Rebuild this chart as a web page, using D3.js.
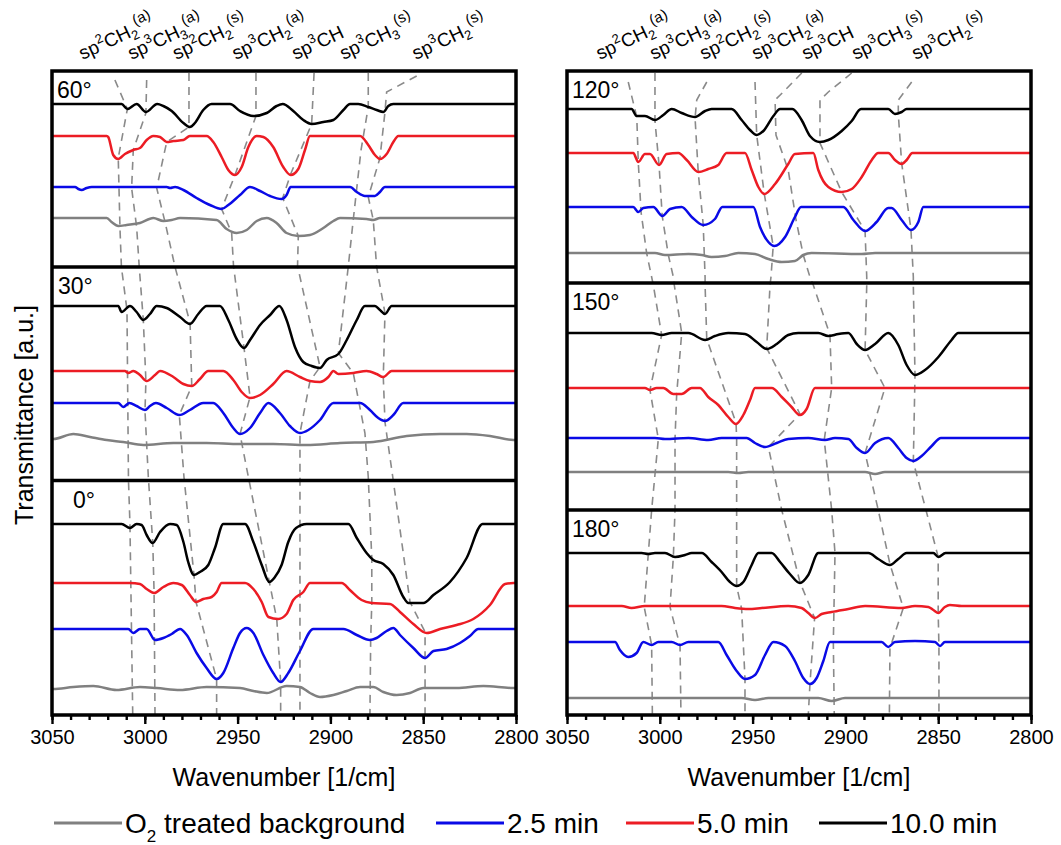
<!DOCTYPE html>
<html>
<head>
<meta charset="utf-8">
<script src="https://cdn.jsdelivr.net/npm/d3@7"></script>
<style>
  body { margin: 0; background: #fff; }
  svg text { font-family: "Liberation Sans", Arial, sans-serif; fill: #000; }
</style>
</head>
<body>
<svg id="chart" width="1061" height="845"></svg>
<script>
// ---------------------------------------------------------------
// Wavenumber axis
// ---------------------------------------------------------------
const wnDomain = [3050, 2800];
const majorTicks = [3050, 3000, 2950, 2900, 2850, 2800];
const minorTicks = d3.range(3050, 2799, -10);

// Series (stacking order bottom -> top inside each panel)
const seriesNames  = ["O\u2082 treated background", "2.5 min", "5.0 min", "10.0 min"];
const seriesColors = ["#808080", "#0a0ae6", "#ec1c24", "#000000"];

// Each spectrum: [wavenumber, change of transmittance relative to its baseline].
// Regions not listed are flat at the baseline.

// ---------- 60 deg ----------
const base60 = [4.97, 5.28, 5.79, 6.11];
const p60_bg = [[3020.5,0],[3017.9,-0.04],[3014.3,-0.08],[3009.8,-0.07],[3002.6,-0.05],[2995.4,0],[2990.0,-0.03],[2985.5,-0.02],[2981.0,0],[2961.3,-0.02],[2955.9,-0.11],[2950.5,-0.15],[2945.1,-0.12],[2939.7,-0.03],[2934.3,0],[2929.0,-0.05],[2923.6,-0.15],[2917.3,-0.18],[2911.0,-0.17],[2903.8,-0.10],[2898.4,-0.03],[2894.8,0],[2880.5,-0.01],[2876.9,-0.02],[2873.3,0]];
const p60_25 = [[3037.6,0],[3035.8,-0.02],[3034.0,-0.03],[3031.3,-0.01],[3028.6,0],[2988.2,0],[2986.4,-0.01],[2983.7,0],[2979.2,-0.03],[2972.1,-0.11],[2964.9,-0.18],[2958.6,-0.22],[2955.0,-0.18],[2948.7,-0.08],[2943.3,0],[2937.9,-0.04],[2932.5,-0.09],[2926.3,-0.12],[2923.6,-0.08],[2921.4,0],[2889.4,0],[2885.8,-0.05],[2881.4,-0.09],[2876.0,-0.09],[2873.3,-0.05],[2870.6,0]];
const p60_50 = [[3020.5,0],[3019.7,-0.01],[3017.0,-0.19],[3014.3,-0.23],[3010.7,-0.18],[3006.2,-0.14],[3002.6,-0.12],[2999.0,-0.04],[2995.4,0],[2991.8,-0.01],[2988.2,-0.06],[2984.6,-0.05],[2979.2,-0.04],[2975.7,0],[2966.7,0],[2963.1,-0.06],[2958.6,-0.21],[2955.0,-0.34],[2951.4,-0.39],[2947.8,-0.31],[2944.2,-0.11],[2939.7,0],[2936.1,-0.01],[2930.8,-0.11],[2925.4,-0.31],[2921.4,-0.39],[2917.3,-0.33],[2913.7,-0.14],[2911.0,0],[2884.0,0],[2879.6,-0.09],[2876.0,-0.19],[2873.3,-0.23],[2869.7,-0.18],[2866.1,-0.06],[2863.4,0]];
const p60_100 = [[3012.5,0],[3009.4,-0.05],[3004.4,0],[2999.4,-0.08],[2993.3,0],[2990.0,-0.02],[2985.5,-0.07],[2979.2,-0.19],[2975.7,-0.23],[2973.0,-0.19],[2968.5,-0.06],[2964.0,0],[2954.1,0],[2948.7,-0.07],[2941.5,-0.12],[2934.3,-0.09],[2929.0,-0.02],[2925.7,0],[2920.0,-0.07],[2914.6,-0.16],[2910.1,-0.20],[2903.8,-0.18],[2898.4,-0.16],[2893.0,-0.06],[2889.4,0],[2885.0,0],[2879.6,-0.03],[2875.1,-0.06],[2871.5,-0.08],[2868.8,-0.02],[2866.1,0]];

// ---------- 30 deg ----------
const base30 = [2.73, 3.12, 3.44, 4.09];
const p30_bg = [[3050,0.03],[3049.3,0.03],[3038.5,0.08],[3029.5,0.05],[3020.5,0.02],[3011.6,0],[3000.8,-0.03],[2984.6,-0.01],[2966.7,-0.01],[2948.7,-0.02],[2930.8,-0.02],[2912.8,-0.03],[2894.8,-0.01],[2876.9,0],[2858.9,0.06],[2840.9,0.08],[2826.6,0.08],[2814.0,0.06],[2801.4,0.02],[2800,0.02]];
const p30_25 = [[3014.3,0],[3011.6,-0.04],[3008.3,0],[3004.4,-0.03],[2999.9,-0.07],[2997.2,-0.03],[2994.0,0],[2988.2,-0.05],[2981.4,-0.12],[2975.7,-0.07],[2968.5,0],[2963.1,0],[2957.7,-0.10],[2952.3,-0.25],[2948.7,-0.31],[2943.3,-0.25],[2937.9,-0.10],[2933.4,0],[2927.2,-0.10],[2921.8,-0.23],[2916.4,-0.30],[2911.9,-0.27],[2905.6,-0.17],[2898.4,0],[2884.0,0],[2878.7,-0.07],[2874.2,-0.15],[2870.6,-0.18],[2866.1,-0.12],[2860.7,0]];
const p30_50 = [[3010.7,0],[3008.9,-0.02],[3006.2,0],[3002.6,-0.04],[2999.0,-0.10],[2994.5,-0.04],[2991.8,0],[2984.6,-0.06],[2979.2,-0.13],[2974.7,-0.15],[2970.3,-0.08],[2965.8,0],[2957.7,0],[2952.3,-0.09],[2947.8,-0.21],[2943.3,-0.27],[2937.9,-0.24],[2930.8,-0.13],[2923.6,0],[2916.4,-0.06],[2911.0,-0.10],[2905.6,-0.11],[2901.1,-0.06],[2898.4,0],[2895.7,-0.03],[2887.6,-0.02],[2880.5,0],[2875.1,-0.03],[2871.5,-0.06],[2867.0,0]];
const p30_100 = [[3014.3,0],[3012.5,-0.06],[3008.0,0],[3004.4,-0.06],[3000.8,-0.14],[2997.2,-0.08],[2993.6,0],[2988.2,-0.02],[2981.0,-0.11],[2975.7,-0.18],[2971.2,-0.08],[2966.7,0],[2959.5,0],[2955.0,-0.14],[2950.5,-0.33],[2946.6,-0.42],[2943.3,-0.34],[2937.9,-0.19],[2932.5,-0.09],[2927.5,0],[2923.6,-0.14],[2919.1,-0.41],[2914.6,-0.56],[2910.1,-0.60],[2905.6,-0.62],[2902.0,-0.54],[2895.7,-0.48],[2891.2,-0.34],[2885.8,-0.14],[2881.4,0],[2876.0,0],[2873.3,-0.04],[2870.6,-0.08],[2867.0,0]];

// ---------- 0 deg ----------
const base0 = [0.27, 0.86, 1.32, 1.91];
const p0_bg = [[3050,-0.01],[3049.3,-0.01],[3038.5,0.01],[3027.7,0.02],[3015.2,-0.02],[3002.6,0.01],[2993.6,0],[2981.0,-0.02],[2966.7,0.01],[2948.7,0],[2941.5,-0.03],[2934.3,-0.05],[2923.6,0.02],[2916.4,0.01],[2911.0,-0.05],[2905.6,-0.09],[2898.4,-0.07],[2891.2,-0.03],[2884.0,0.01],[2876.9,0.01],[2871.5,-0.04],[2864.3,-0.07],[2857.1,-0.05],[2849.9,0],[2832.0,0],[2817.6,0.02],[2801.4,0],[2800,0]];
const p0_25 = [[3008.9,0],[3006.2,-0.04],[3002.6,0],[2999.0,0],[2994.5,-0.11],[2990.0,-0.09],[2985.5,-0.05],[2981.0,0],[2977.4,-0.06],[2972.1,-0.24],[2966.7,-0.39],[2961.3,-0.50],[2957.7,-0.44],[2952.3,-0.19],[2948.7,-0.04],[2945.1,0.01],[2941.5,-0.04],[2936.1,-0.26],[2930.8,-0.44],[2926.8,-0.53],[2922.7,-0.44],[2916.4,-0.22],[2909.2,0],[2893.0,0],[2885.8,-0.06],[2878.7,-0.11],[2875.1,-0.09],[2869.7,-0.02],[2866.1,0.01],[2862.5,-0.06],[2855.3,-0.19],[2849.0,-0.29],[2844.5,-0.22],[2837.4,-0.20],[2830.2,-0.14],[2824.8,-0.07],[2820.3,0]];
const p0_50 = [[3008.0,0],[3002.6,-0.01],[2999.0,-0.06],[2995.0,-0.10],[2990.0,-0.04],[2984.6,0],[2980.1,-0.02],[2975.7,-0.12],[2972.4,-0.19],[2968.5,-0.16],[2964.0,-0.14],[2961.3,-0.09],[2958.6,0],[2946.0,0],[2941.5,-0.06],[2937.0,-0.19],[2933.4,-0.34],[2928.1,-0.36],[2923.6,-0.31],[2920.0,-0.17],[2914.6,-0.09],[2911.0,0],[2893.9,0],[2889.5,-0.07],[2883.2,-0.17],[2877.8,-0.20],[2867.9,-0.21],[2862.5,-0.29],[2855.3,-0.41],[2848.1,-0.50],[2840.9,-0.46],[2832.0,-0.42],[2823.0,-0.36],[2814.0,-0.22],[2805.9,-0.01],[2801.4,0]];
const p0_100 = [[3012.5,0],[3008.0,-0.04],[3004.4,0],[3001.7,-0.01],[2999.0,-0.11],[2995.8,-0.19],[2991.8,-0.08],[2986.4,0],[2982.8,-0.01],[2979.2,-0.18],[2976.6,-0.38],[2973.5,-0.51],[2970.3,-0.48],[2965.8,-0.41],[2962.2,-0.24],[2957.7,0],[2946.0,0],[2941.5,-0.18],[2937.0,-0.41],[2932.9,-0.58],[2929.9,-0.53],[2926.3,-0.41],[2922.7,-0.18],[2918.5,-0.04],[2912.8,0],[2890.3,0],[2885.8,-0.14],[2880.5,-0.29],[2876.9,-0.36],[2871.5,-0.40],[2866.1,-0.51],[2860.7,-0.73],[2858.0,-0.79],[2849.9,-0.79],[2844.5,-0.71],[2835.6,-0.58],[2826.6,-0.34],[2818.0,0]];

// ---------- 120 deg ----------
const base120 = [4.62, 5.08, 5.62, 6.06];
const p120_bg = [[3002.6,0],[2997.2,-0.02],[2984.6,-0.01],[2977.4,-0.02],[2972.1,-0.04],[2964.9,-0.03],[2957.7,0],[2948.7,-0.01],[2941.5,-0.06],[2934.3,-0.09],[2927.2,-0.08],[2922.7,-0.02],[2918.2,0],[2891.2,-0.01],[2884.0,0]];
const p120_25 = [[3014.3,0],[3011.6,-0.05],[3008.9,-0.01],[3003.5,0],[2998.6,-0.09],[2994.5,-0.02],[2988.2,0],[2982.8,-0.10],[2976.6,-0.18],[2970.3,-0.12],[2966.3,0],[2949.6,0],[2946.0,-0.20],[2941.5,-0.35],[2938.3,-0.39],[2932.5,-0.30],[2927.2,-0.10],[2923.9,0],[2901.1,0],[2895.7,-0.13],[2889.4,-0.24],[2883.2,-0.15],[2876.9,-0.01],[2875.1,-0.01],[2869.7,-0.13],[2864.7,-0.23],[2860.7,-0.15],[2858.0,0]];
const p120_50 = [[3014.3,0],[3011.6,-0.09],[3008.0,-0.01],[3005.3,-0.01],[3000.4,-0.12],[2996.3,-0.01],[2990.0,0],[2985.5,-0.07],[2979.2,-0.19],[2973.9,-0.16],[2968.5,-0.12],[2964.0,0],[2954.1,0],[2950.5,-0.17],[2946.9,-0.34],[2943.7,-0.41],[2937.9,-0.31],[2930.8,-0.11],[2927.2,-0.01],[2917.3,0],[2914.6,-0.17],[2909.2,-0.34],[2902.0,-0.39],[2896.6,-0.36],[2891.2,-0.24],[2885.8,-0.07],[2882.3,0],[2876.9,0],[2873.3,-0.07],[2869.7,-0.11],[2867.0,-0.07],[2863.9,0]];
const p120_100 = [[3015.2,0],[3012.5,-0.07],[3008.0,-0.07],[3002.6,-0.11],[2998.1,-0.06],[2993.6,0],[2988.2,-0.04],[2981.0,-0.08],[2975.6,-0.02],[2972.1,0],[2961.3,0],[2955.9,-0.11],[2951.4,-0.21],[2947.8,-0.26],[2944.2,-0.22],[2938.8,-0.07],[2935.2,0],[2928.6,0],[2923.6,-0.11],[2919.1,-0.27],[2913.7,-0.33],[2909.2,-0.31],[2902.0,-0.22],[2896.6,-0.12],[2891.6,0],[2876.9,0],[2873.3,-0.05],[2869.7,-0.03],[2867.0,0]];

// ---------- 150 deg ----------
const base150 = [2.43, 2.77, 3.27, 3.82];
const p150_bg = [[2963.1,0],[2957.7,-0.01],[2952.3,0],[2889.4,0],[2884.0,-0.02],[2878.7,0]];
const p150_25 = [[3002.6,0],[2997.2,-0.01],[2984.6,0],[2973.9,-0.02],[2966.7,0],[2953.2,0],[2948.7,-0.05],[2943.3,-0.09],[2937.0,-0.05],[2930.8,-0.01],[2920.0,0],[2911.0,-0.02],[2905.6,0],[2898.4,-0.01],[2893.9,-0.10],[2889.4,-0.15],[2884.0,-0.05],[2876.9,0],[2871.5,-0.10],[2867.0,-0.20],[2863.4,-0.23],[2858.9,-0.18],[2853.5,-0.08],[2848.5,0]];
const p150_50 = [[3008.0,0],[3005.3,-0.02],[3001.7,0],[2998.1,0],[2992.7,-0.06],[2988.2,-0.06],[2982.8,0],[2978.4,0],[2973.9,-0.09],[2968.5,-0.17],[2963.1,-0.29],[2959.0,-0.36],[2955.0,-0.27],[2951.4,-0.12],[2948.7,0],[2939.7,0],[2934.3,-0.09],[2929.0,-0.19],[2924.5,-0.27],[2920.9,-0.21],[2916.4,0]];
const p150_100 = [[3004.4,0],[2999.0,-0.02],[2993.6,0],[2984.6,0],[2975.6,-0.07],[2970.3,-0.03],[2963.1,0],[2954.1,-0.01],[2947.8,-0.09],[2942.4,-0.16],[2937.0,-0.11],[2930.8,-0.02],[2925.4,0],[2914.6,0],[2909.2,-0.03],[2903.8,-0.01],[2898.4,0],[2893.9,-0.11],[2889.4,-0.17],[2884.0,-0.11],[2876.9,0],[2871.5,-0.12],[2867.0,-0.32],[2862.5,-0.42],[2857.1,-0.37],[2849.9,-0.24],[2842.8,-0.07],[2839.2,0]];

// ---------- 180 deg ----------
const base180 = [0.17, 0.73, 1.09, 1.62];
const p180_bg = [[2955.9,0],[2948.7,-0.02],[2941.5,0],[2914.6,0],[2907.4,-0.03],[2900.2,0]];
const p180_25 = [[3024.1,0],[3021.5,-0.08],[3017.0,-0.15],[3012.5,-0.11],[3008.9,0],[3004.4,-0.03],[3000.8,0],[2993.6,0],[2989.1,-0.03],[2984.6,0],[2968.5,0],[2964.0,-0.13],[2958.6,-0.29],[2954.1,-0.37],[2948.7,-0.33],[2943.3,-0.13],[2938.8,0],[2932.5,-0.04],[2927.2,-0.19],[2922.7,-0.36],[2919.1,-0.42],[2915.5,-0.36],[2911.9,-0.19],[2908.3,0],[2880.5,0],[2876.9,-0.05],[2873.3,0],[2862.5,0.01],[2851.7,0],[2849.0,-0.04],[2846.4,0]];
const p180_50 = [[3020.5,0],[3015.2,-0.02],[3008.0,0],[2966.7,0],[2959.5,-0.02],[2952.3,-0.03],[2945.1,-0.02],[2930.8,0],[2923.6,-0.02],[2920.0,-0.07],[2916.4,-0.12],[2912.8,-0.08],[2907.4,-0.06],[2898.4,-0.03],[2889.4,0],[2869.7,-0.02],[2862.5,0],[2855.3,-0.01],[2852.6,-0.04],[2849.9,-0.07],[2846.4,-0.01],[2843.7,0.01],[2837.4,0]];
const p180_100 = [[3009.8,0],[3006.2,-0.01],[3002.6,0],[2997.2,0],[2991.8,-0.04],[2986.4,-0.02],[2982.8,0],[2977.4,0],[2972.1,-0.09],[2966.7,-0.19],[2962.2,-0.29],[2958.6,-0.33],[2955.0,-0.29],[2950.5,-0.12],[2946.9,0],[2939.7,0],[2935.2,-0.09],[2929.9,-0.21],[2924.5,-0.30],[2920.0,-0.22],[2914.6,0],[2887.6,0],[2882.3,-0.06],[2876.0,-0.12],[2871.5,-0.06],[2867.0,0],[2852.6,0],[2849.9,-0.04],[2846.0,0]];

// Peak-assignment guides: [wavenumber, stacked transmittance level]
const guidesLeft = [
  [[3016.1,6.35],[3009.4,6.06],[3014.3,5.57],[3013.4,4.88],[3012.6,4.48],[3009.6,4.05],[3008.8,2.35],[3008.0,1.91],[3006.5,0]],
  [[2999.0,6.35],[2999.4,6.02],[3006.2,5.65],[3007.1,5.27],[3004.4,4.88],[3003.0,4.48],[3000.8,3.95],[2999.4,3.34],[2999.9,3.04],[2998.1,2.38],[2995.7,1.72],[2995.0,1.23],[2994.5,0]],
  [[2976.2,6.42],[2976.2,5.88],[2988.2,5.73],[2993.6,5.27],[2989.1,4.93],[2983.7,4.48],[2975.6,3.92],[2974.7,3.29],[2981.4,3.00],[2978.9,2.38],[2973.5,1.40],[2972.4,1.13],[2961.3,0.36],[2961.3,0]],
  [[2940.1,6.42],[2940.1,5.99],[2951.4,5.40],[2958.6,5.06],[2953.2,4.82],[2952.2,4.49],[2946.6,3.68],[2943.3,3.18],[2948.7,2.81],[2944.2,2.38],[2932.9,1.33],[2928.9,0.96],[2926.8,0.33],[2926.8,0]],
  [[2908.8,6.42],[2910.1,5.91],[2921.4,5.41],[2925.7,5.17],[2917.3,4.79],[2917.7,4.49],[2905.6,3.48],[2911.0,3.34],[2916.4,2.82],[2916.4,0]],
  [[2879.6,6.42],[2879.6,6.08],[2883.5,5.65],[2887.7,4.95],[2890.4,4.48],[2895.7,3.62],[2887.7,3.42],[2881.4,2.82],[2879.6,2.38],[2877.7,1.57],[2877.7,1.12],[2878.3,0.75],[2878.7,0]],
  [[2853.5,6.39],[2869.7,6.23],[2870.6,6.03],[2873.3,5.57],[2879.6,5.18],[2876.9,4.95],[2875.1,4.48],[2870.6,4.02],[2871.5,3.38],[2870.6,2.93],[2866.4,2.38],[2857.1,1.13],[2849.0,0.83],[2849.0,0]]
];
const guidesRight = [
  [[3017.0,6.33],[3012.4,5.98],[3011.6,5.53],[3010.1,5.03],[3007.1,4.62],[3004.4,4.38],[3003.5,4.30],[2999.0,3.80],[3005.3,3.25],[3000.8,2.76],[3004.4,2.05],[3006.2,1.61],[3008.4,1.08],[3004.4,0.70],[3004.0,0]],
  [[3002.6,6.42],[3002.6,5.94],[3000.4,5.50],[2998.7,4.99],[2995.4,4.60],[2992.7,4.38],[2992.2,4.30],[2988.2,3.82],[2990.9,3.21],[2991.8,2.76],[2991.8,2.05],[2992.7,1.58],[2994.5,1.08],[2989.1,0.69],[2988.6,0]],
  [[2974.7,6.33],[2980.1,6.15],[2981.0,5.97],[2979.3,5.43],[2976.6,4.90],[2975.6,4.38],[2975.6,4.30],[2974.7,3.76],[2958.9,2.92],[2958.6,2.76],[2958.6,2.05],[2958.6,1.29],[2955.9,1.06],[2954.1,0.36],[2954.1,0]],
  [[2948.7,6.33],[2947.8,5.80],[2943.7,5.21],[2938.9,4.69],[2940.1,4.38],[2940.6,4.30],[2942.4,3.67],[2924.5,3.01],[2941.5,2.68],[2934.3,2.05],[2924.5,1.33],[2916.6,0.97],[2919.1,0.31],[2920.0,0]],
  [[2923.5,6.42],[2933.5,6.23],[2937.9,6.15],[2937.4,5.80],[2930.8,5.45],[2926.6,4.95],[2922.7,4.60],[2919.1,4.38],[2917.3,4.30],[2908.3,3.80],[2907.4,3.27],[2911.4,2.75],[2907.4,2.05],[2905.6,1.62],[2906.5,0.73],[2906.0,0]],
  [[2896.6,6.42],[2909.2,6.23],[2913.7,6.15],[2913.7,5.72],[2902.0,5.23],[2889.4,4.84],[2888.5,4.38],[2888.5,4.30],[2889.4,3.65],[2878.7,3.27],[2889.4,2.62],[2882.3,2.05],[2876.0,1.51],[2868.8,1.07],[2876.0,0.67],[2876.3,0]],
  [[2864.3,6.33],[2871.5,6.15],[2871.5,6.01],[2869.7,5.52],[2864.7,4.86],[2863.4,4.38],[2863.4,4.30],[2862.5,3.40],[2863.4,2.53],[2856.6,2.05],[2850.0,1.58],[2850.0,1.02],[2849.6,0.68],[2849.6,0]]
];

// Peak labels: hybridisation, group, H count, mode, anchor wavenumber
const peakHyb   = ["2", "3", "2", "3", "3", "3", "3"];
const peakGroup = ["CH", "CH", "CH", "CH", "CH", "CH", "CH"];
const peakH     = ["2", "3", "2", "2", "", "3", "2"];
const peakMode  = ["(a)", "(a)", "(s)", "(a)", "", "(s)", "(s)"];
const labelWnLeft  = [3033.5, 3007.2, 2983.0, 2951.0, 2918.8, 2893.0, 2854.0];
const labelWnRight = [3032.4, 3003.4, 2976.4, 2948.4, 2921.5, 2894.6, 2862.2];

// Panel bounds on the stacked transmittance scale and panel titles
const leftBounds  = [6.44, 4.48, 2.345, 0];
const rightBounds = [6.44, 4.32, 2.05, 0];
const leftTitles  = ["60°", "30°", "0°"];
const rightTitles = ["120°", "150°", "180°"];

const leftPanels = [
  { base: base60, data: [p60_bg, p60_25, p60_50, p60_100] },
  { base: base30, data: [p30_bg, p30_25, p30_50, p30_100] },
  { base: base0,  data: [p0_bg,  p0_25,  p0_50,  p0_100] }
];
const rightPanels = [
  { base: base120, data: [p120_bg, p120_25, p120_50, p120_100] },
  { base: base150, data: [p150_bg, p150_25, p150_50, p150_100] },
  { base: base180, data: [p180_bg, p180_25, p180_50, p180_100] }
];

// ---------------------------------------------------------------
// Layout
// ---------------------------------------------------------------
const svg = d3.select("#chart");
const frameTop = 71, frameBottom = 715;

const columns = [
  { x0: 52,  x1: 516,  bounds: leftBounds,  titles: leftTitles,  titleX: [57, 58, 73],
    panels: leftPanels,  guides: guidesLeft,  labelWn: labelWnLeft },
  { x0: 567, x1: 1031, bounds: rightBounds, titles: rightTitles, titleX: [572, 572, 572],
    panels: rightPanels, guides: guidesRight, labelWn: labelWnRight }
];

const defs = svg.append("defs");

columns.forEach((col, ci) => {
  const x = d3.scaleLinear().domain(wnDomain).range([col.x0, col.x1]);
  const y = d3.scaleLinear().domain([0, 6.44]).range([frameBottom, frameTop]);
  const g = svg.append("g");

  defs.append("clipPath").attr("id", "clip" + ci)
    .append("rect")
    .attr("x", col.x0).attr("y", frameTop)
    .attr("width", col.x1 - col.x0).attr("height", frameBottom - frameTop);

  // dashed peak guides
  const guideLine = d3.line().x(d => x(d[0])).y(d => y(d[1]));
  g.append("g").attr("clip-path", `url(#clip${ci})`)
    .selectAll("path").data(col.guides).join("path")
    .attr("d", guideLine)
    .attr("fill", "none")
    .attr("stroke", "#8a8a8a")
    .attr("stroke-width", 1.6)
    .attr("stroke-dasharray", "8,6");

  // spectra
  const specLine = d3.line().curve(d3.curveMonotoneX)
    .x(d => x(d[0])).y(d => y(d[1]));
  col.panels.forEach(panel => {
    panel.data.forEach((pts, si) => {
      let arr = pts.slice().sort((a, b) => b[0] - a[0]);
      if (arr[0][0] < 3050) arr.unshift([3050, 0]);
      if (arr[arr.length - 1][0] > 2800) arr.push([2800, 0]);
      const abs = arr.map(p => [p[0], panel.base[si] + p[1]]);
      g.append("path")
        .attr("d", specLine(abs))
        .attr("fill", "none")
        .attr("stroke", seriesColors[si])
        .attr("stroke-width", 2.5)
        .attr("stroke-linejoin", "round");
    });
  });

  // frame and panel separators
  g.append("rect")
    .attr("x", col.x0).attr("y", frameTop)
    .attr("width", col.x1 - col.x0).attr("height", frameBottom - frameTop)
    .attr("fill", "none").attr("stroke", "#000").attr("stroke-width", 3.5);
  col.bounds.slice(1, -1).forEach(b => {
    g.append("line")
      .attr("x1", col.x0).attr("x2", col.x1)
      .attr("y1", y(b)).attr("y2", y(b))
      .attr("stroke", "#000").attr("stroke-width", 3.5);
  });

  // panel titles
  col.titles.forEach((t, i) => {
    g.append("text")
      .attr("x", col.titleX[i])
      .attr("y", y(col.bounds[i]) + 27)
      .attr("font-size", 23)
      .text(t);
  });

  // bottom axis: major and minor ticks
  const major = d3.axisBottom(x).tickValues(majorTicks).tickSize(9).tickPadding(6)
    .tickFormat(d3.format("d"));
  const minor = d3.axisBottom(x).tickValues(minorTicks).tickSize(5).tickFormat("");
  const gMinor = svg.append("g").attr("transform", `translate(0,${frameBottom})`).call(minor);
  const gMajor = svg.append("g").attr("transform", `translate(0,${frameBottom})`).call(major);
  [gMinor, gMajor].forEach(ax => {
    ax.select(".domain").remove();
    ax.selectAll("line").attr("stroke", "#000").attr("stroke-width", 2.4);
  });
  gMajor.selectAll("text")
    .attr("font-size", 20)
    .attr("font-family", "Liberation Sans, Arial, sans-serif")
    .attr("fill", "#000");

  // axis title
  svg.append("text")
    .attr("x", (col.x0 + col.x1) / 2)
    .attr("y", 786)
    .attr("text-anchor", "middle")
    .attr("font-size", 25)
    .text("Wavenumber [1/cm]");

  // peak labels above the frame
  col.labelWn.forEach((wn, i) => {
    const t = svg.append("text")
      .attr("transform", `translate(${x(wn)},60) rotate(-25)`)
      .attr("font-size", 19);
    t.append("tspan").text("sp");
    t.append("tspan").attr("font-size", 13).attr("dy", -8).text(peakHyb[i]);
    t.append("tspan").attr("dy", 8).text(peakGroup[i]);
    if (peakH[i]) t.append("tspan").attr("font-size", 13).attr("dy", 4).text(peakH[i]);
    if (peakMode[i]) t.append("tspan").attr("font-size", 15).attr("dy", -13).text(peakMode[i]);
  });
});

// y axis title
svg.append("text")
  .attr("transform", "translate(33,415) rotate(-90)")
  .attr("text-anchor", "middle")
  .attr("font-size", 25)
  .text("Transmittance [a.u.]");

// legend
const legendX = [54, 436, 626, 819];
const legend = svg.append("g");
seriesNames.forEach((name, si) => {
  legend.append("line")
    .attr("x1", legendX[si]).attr("x2", legendX[si] + 68)
    .attr("y1", 823).attr("y2", 823)
    .attr("stroke", seriesColors[si]).attr("stroke-width", 3);
  const t = legend.append("text")
    .attr("x", legendX[si] + 71).attr("y", 833)
    .attr("font-size", 28);
  if (si === 0) {
    t.append("tspan").text("O");
    t.append("tspan").attr("font-size", 17).attr("dy", 9).text("2");
    t.append("tspan").attr("dy", -9).text(" treated background");
  } else {
    t.text(name);
  }
});
</script>
</body>
</html>
